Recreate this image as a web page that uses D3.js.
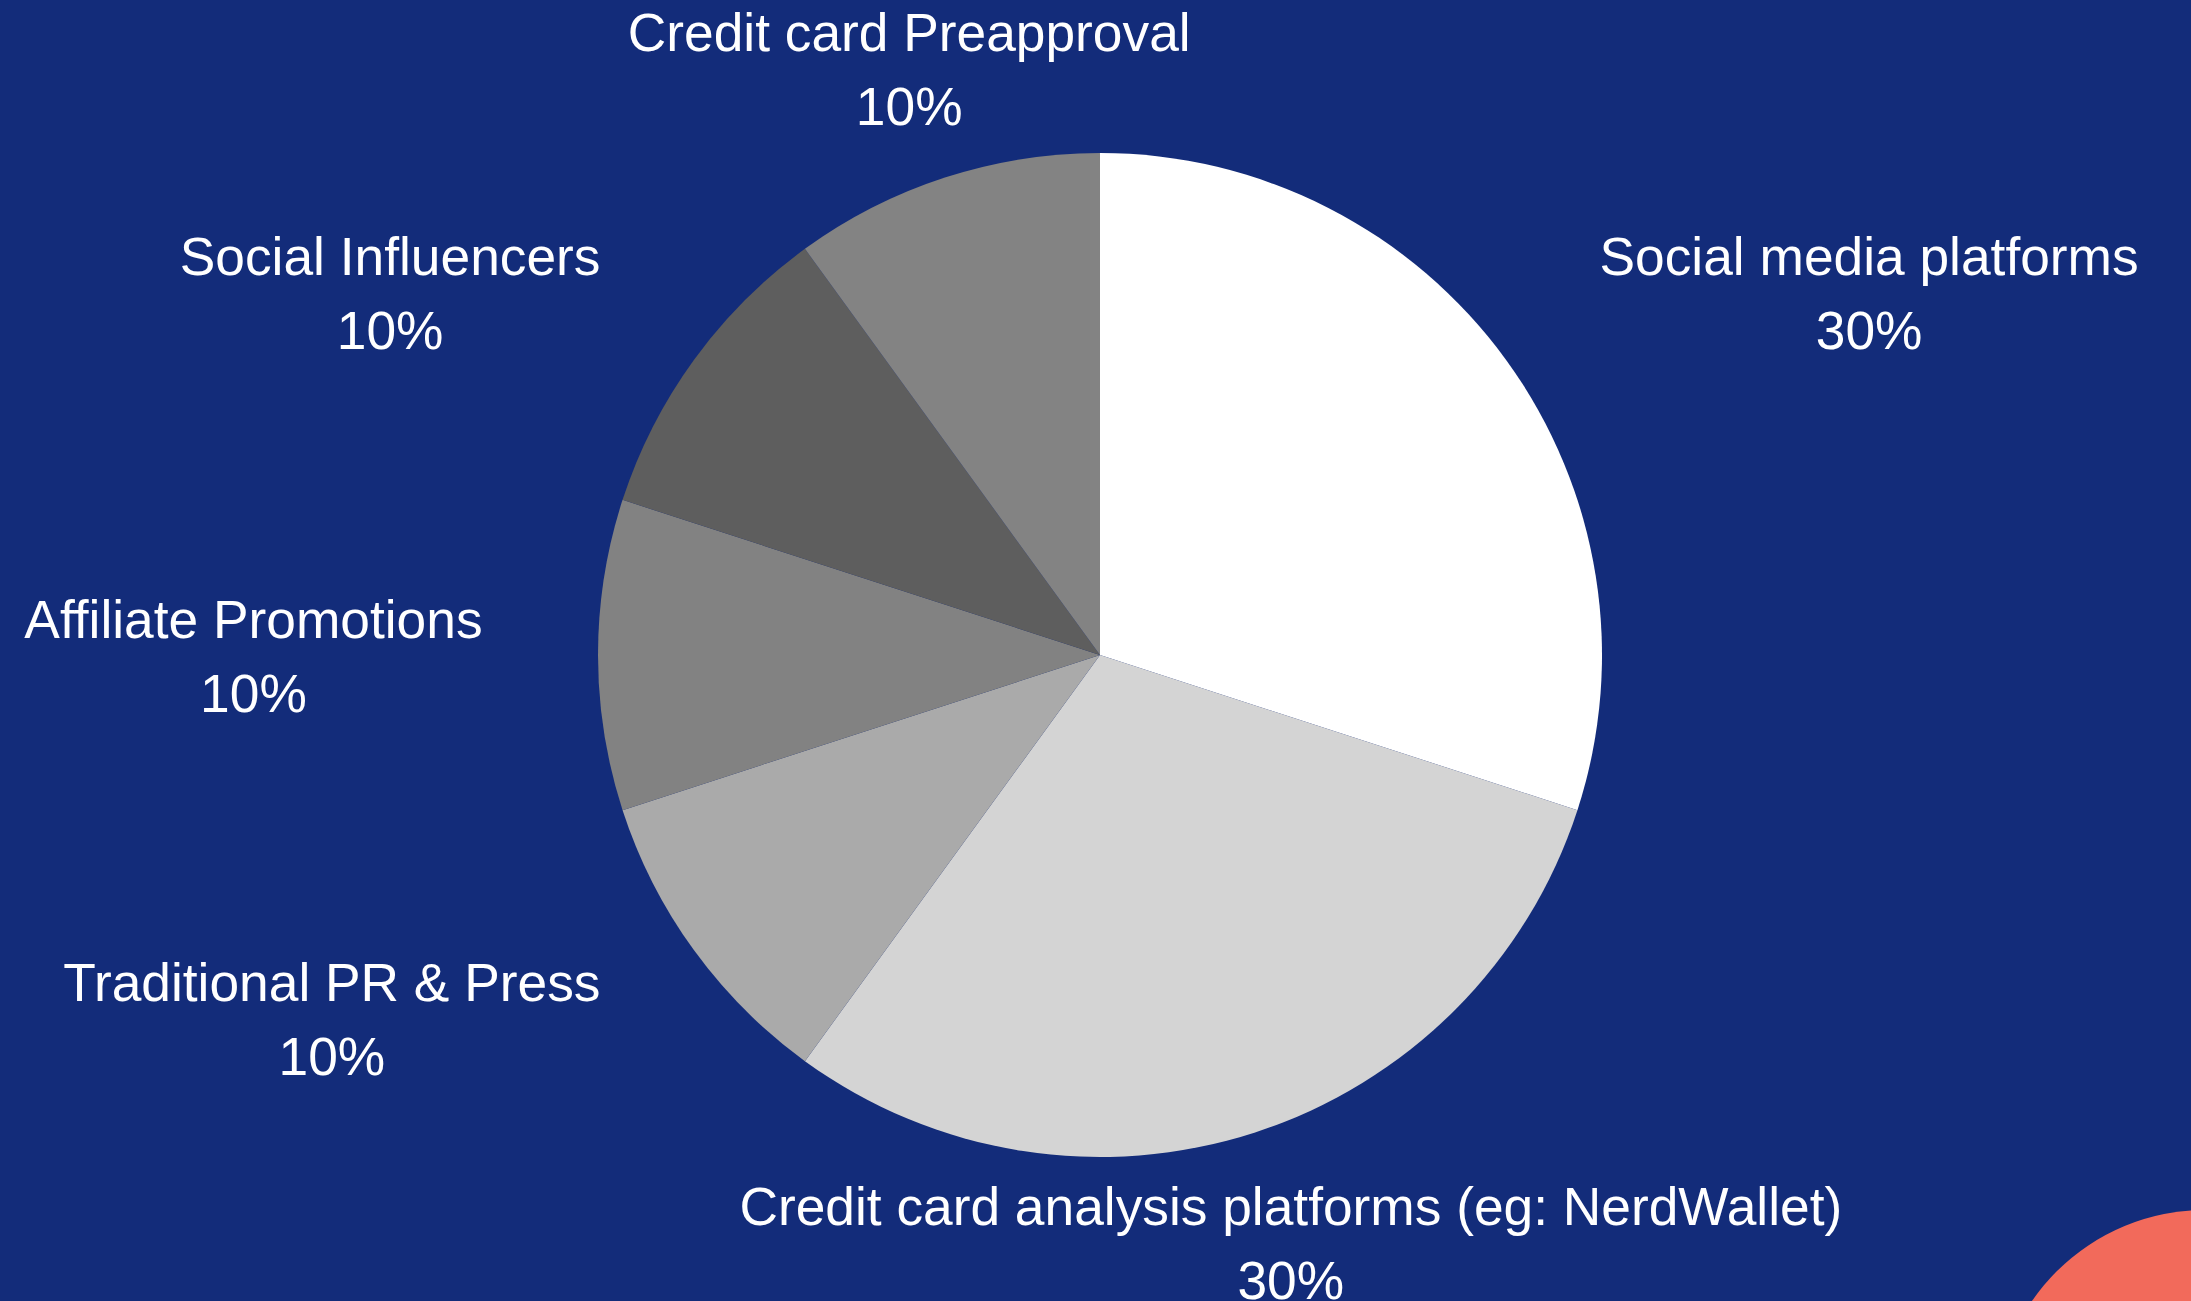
<!DOCTYPE html>
<html lang="en">
<head>
    <meta charset="UTF-8">
    <title>pie - channels</title>
    <script src="https://d3js.org/d3.v7.min.js"></script>
</head>
<style>
body {
margin: 0;
background: #132c7a;
overflow: hidden;
}

.label {
fill: #ffffff;
font: 53.3px 'Liberation Sans', Arial, sans-serif;
}
</style>
<body>
    <svg width="2191" height="1301"></svg>
</body>
<script>
    // slices, clockwise from 12 o'clock
    var categories = [
        "Social media platforms",
        "Credit card analysis platforms (eg: NerdWallet)",
        "Traditional PR & Press",
        "Affiliate Promotions",
        "Social Influencers",
        "Credit card Preapproval"
    ];
    var values = [30, 30, 10, 10, 10, 10];
    var fills = ["#ffffff", "#d4d4d4", "#aaaaaa", "#828282", "#5e5e5e", "#838383"];

    var svg = d3.select("svg"),
        width = +svg.attr("width"),
        height = +svg.attr("height"),
        cx = 1100,
        cy = 655,
        radius = 502,
        labelRadius = radius * 1.23;

    svg.append("rect")
        .attr("width", width)
        .attr("height", height)
        .attr("fill", "#132c7a");

    // orange blob in the corner
    svg.append("circle")
        .attr("cx", 2205)
        .attr("cy", 1420)
        .attr("r", 210)
        .attr("fill", "#f26a5b");

    var data = categories.map(function(c, i) {
        return { name: c, value: values[i], fill: fills[i] };
    });

    var pie = d3.pie()
        .sort(null)
        .value(function(d) { return d.value; });

    var arc = d3.arc()
        .innerRadius(0)
        .outerRadius(radius);

    var g = svg.append("g")
        .attr("transform", "translate(" + cx + "," + cy + ")");

    var arcs = pie(data);

    g.selectAll("path")
        .data(arcs)
        .enter()
        .append("path")
        .attr("d", arc)
        .attr("fill", function(d) { return d.data.fill; });

    var label = g.selectAll(".label")
        .data(arcs)
        .enter()
        .append("text")
        .attr("class", "label")
        .attr("text-anchor", function(d) {
            var s = Math.sin((d.startAngle + d.endAngle) / 2);
            if (Math.abs(s) < 0.5) return "middle";
            return s > 0 ? "start" : "end";
        })
        .attr("transform", function(d) {
            var a = (d.startAngle + d.endAngle) / 2;
            return "translate(" + Math.sin(a) * labelRadius + "," + (-Math.cos(a) * labelRadius) + ")";
        });

    label.append("tspan")
        .attr("x", 0)
        .attr("y", -17)
        .text(function(d) { return d.data.name; });

    label.append("tspan")
        .attr("x", 0)
        .attr("y", 57)
        .text(function(d) { return d.data.value + "%"; });

    // centre the percent line under its name
    label.each(function() {
        var t = d3.select(this),
            anchor = t.attr("text-anchor"),
            w = t.select("tspan").node().getComputedTextLength(),
            p = t.selectAll("tspan").filter(function(d, i) { return i === 1; });
        p.attr("text-anchor", "middle");
        if (anchor === "start") p.attr("x", w / 2);
        if (anchor === "end") p.attr("x", -w / 2);
    });
</script>
</html>
